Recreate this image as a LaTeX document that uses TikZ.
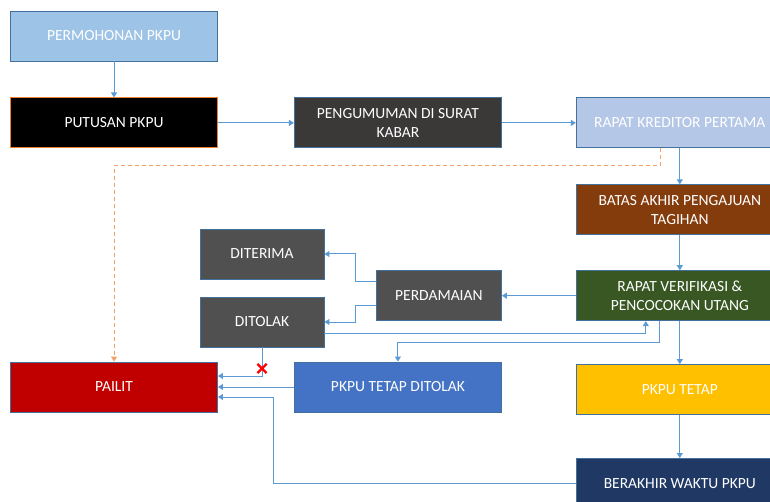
\documentclass[tikz,border=0pt]{standalone}
\usepackage{fontspec}
\setmainfont{Carlito}
\usepackage{tikz}
\usetikzlibrary{shapes,shapes.misc,arrows.meta,positioning,calc}
\definecolor{arrblue}{RGB}{91,155,213}
\definecolor{edgeblue}{RGB}{65,113,156}
\definecolor{pkorange}{RGB}{237,125,49}
\definecolor{dashorange}{RGB}{244,160,105}
\definecolor{lightblue}{RGB}{157,195,230}
\definecolor{paleblue}{RGB}{180,199,231}
\definecolor{darkgray}{RGB}{59,56,56}
\definecolor{midgray}{RGB}{80,80,80}
\definecolor{brown}{RGB}{132,60,12}
\definecolor{darkgreen}{RGB}{56,87,35}
\definecolor{gold}{RGB}{255,192,0}
\definecolor{navy}{RGB}{31,56,100}
\definecolor{pailitred}{RGB}{192,0,0}
\definecolor{midblue}{RGB}{68,114,196}

\begin{document}
\begin{tikzpicture}[x=1pt, y=-1pt, node distance=36pt, >={Triangle[length=5pt,width=6pt]}]
  \tikzstyle{box} = [rectangle, draw=edgeblue, line width=0.9pt, minimum width=207pt, minimum height=50pt, inner sep=0pt, align=center, text=white, font=\fontsize{15.5}{19.5}\selectfont]
  \tikzstyle{smallbox} = [box, fill=midgray, minimum width=124pt]
  \tikzstyle{arr} = [->, draw=arrblue, line width=1pt]
  \tikzstyle{dasharr} = [->, draw=dashorange, line width=1pt, dash pattern=on 4pt off 3pt]
  \tikzstyle{silang} = [cross out, draw=red, line width=2.2pt, minimum size=7pt, inner sep=0pt]

  \clip (0,0) rectangle (770,502);

  % main line
  \node[box, fill=lightblue] (permohonan) at (114,36) {PERMOHONAN PKPU};
  \node[box, fill=black, draw=pkorange] (putusan) [below=36pt of permohonan] {PUTUSAN PKPU};
  \node[box, fill=darkgray] (pengumuman) [right=76pt of putusan] {PENGUMUMAN DI SURAT\\KABAR};
  \node[box, fill=paleblue] (kreditor) [right=74pt of pengumuman] {RAPAT KREDITOR PERTAMA};
  \node[box, fill=brown] (batas) [below=36pt of kreditor] {BATAS AKHIR PENGAJUAN\\TAGIHAN};
  \node[box, fill=darkgreen] (verifikasi) [below=35pt of batas] {RAPAT VERIFIKASI \&\\PENCOCOKAN UTANG};
  \node[box, fill=gold] (tetap) [below=43pt of verifikasi] {PKPU TETAP};
  \node[box, fill=navy] (berakhir) [below=43pt of tetap] {BERAKHIR WAKTU PKPU};

  % perdamaian
  \node[smallbox, minimum width=125pt] (perdamaian) [left=74pt of verifikasi] {PERDAMAIAN};
  \node[smallbox] (diterima) at (262,254) {DITERIMA};
  \node[smallbox] (ditolak) at (262,322) {DITOLAK};

  % bottom row
  \node[box, fill=pailitred] (pailit) at (114,387) {PAILIT};
  \node[box, fill=midblue] (tditolak) [right=76pt of pailit] {PKPU TETAP DITOLAK};

  \draw[arr] (permohonan) -- (putusan);
  \draw[arr] (putusan) -- (pengumuman);
  \draw[arr] (pengumuman) -- (kreditor);
  \draw[arr] (kreditor) -- (batas);
  \draw[arr] (batas) -- (verifikasi);
  \draw[arr] (verifikasi) -- (tetap);
  \draw[arr] (tetap) -- (berakhir);
  \draw[arr] (verifikasi) -- (perdamaian);

  \draw[arr] ([yshift=14pt]perdamaian.west) -- ++(-20,0) |- (diterima);
  \draw[arr] ([yshift=-10pt]perdamaian.west) -- ++(-20,0) |- (ditolak);
  \draw[arr] ([yshift=-11pt]ditolak.east) -| ([xshift=-34pt]verifikasi.south);
  \draw[arr] ([xshift=-20pt]verifikasi.south) -- ++(0,21) -| (tditolak.north);

  % ke pailit
  \draw[arr] (ditolak.south) |- ([yshift=11pt]pailit.east);
  \node[silang] (batal) at ([yshift=-21pt]ditolak.south) {};
  \draw[arr] (tditolak) -- (pailit);
  \draw[arr] (berakhir.west) -| ([xshift=56pt,yshift=-10pt]pailit.east) -- ([yshift=-10pt]pailit.east);
  \draw[dasharr] ([xshift=-19pt]kreditor.south) -- ++(0,17) -| (pailit.north);
\end{tikzpicture}
\end{document}
